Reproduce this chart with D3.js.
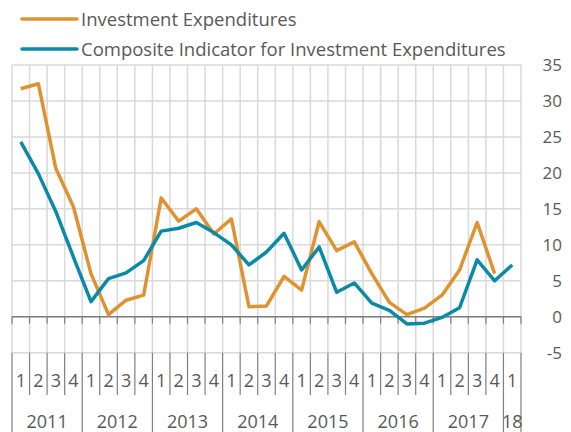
<!DOCTYPE html>
<html>
<head>
<meta charset="utf-8">
<script src="https://cdn.jsdelivr.net/npm/d3@7"></script>
<style>
  body { margin: 0; background: #fff; }
  text { font-family: "Open Sans", sans-serif; fill: #595959; }
</style>
</head>
<body>
<div class="chart"></div>
<script>
// quarters 2011 Q1 .. 2018 Q1
const years = ["2011", "2012", "2013", "2014", "2015", "2016", "2017", "18"];
const quarters = [];
years.forEach((y, i) => {
  const n = i === years.length - 1 ? 1 : 4;
  for (let q = 1; q <= n; q++) quarters.push({ year: y, q: q });
});

const investment = [31.7, 32.4, 20.6, 15.3, 6.0, 0.3, 2.3, 3.0, 16.5, 13.3, 15.0, 11.5,
  13.6, 1.4, 1.5, 5.6, 3.7, 13.2, 9.2, 10.4, 6.0, 2.0, 0.3, 1.2, 3.0, 6.5, 13.1, 6.0, null];
const composite = [24.3, 19.9, 14.6, 8.3, 2.1, 5.3, 6.1, 7.8, 11.9, 12.3, 13.1, 11.7,
  10.0, 7.2, 9.0, 11.6, 6.5, 9.7, 3.4, 4.7, 1.9, 0.9, -1.0, -0.9, -0.1, 1.25, 7.9, 5.0, 7.2];
const yTicks = [-5, 0, 5, 10, 15, 20, 25, 30, 35];

const orange = "#DE9230";
const teal = "#0B8AA8";

const width = 571, height = 432;
const svg = d3.select(".chart").append("svg").attr("width", width).attr("height", height);

const x = d3.scaleBand().domain(d3.range(quarters.length)).range([12, 521]).paddingInner(0).paddingOuter(0);
const y = d3.scaleLinear().domain([-5, 35]).range([352.7, 65]);

const bounds = d3.range(quarters.length + 1).map(i => 12 + i * x.bandwidth());

// gridlines
svg.append("g").selectAll("line").data(yTicks).join("line")
  .attr("x1", 12).attr("x2", 521)
  .attr("y1", d => y(d)).attr("y2", d => y(d))
  .attr("stroke", "#d9d9d9").attr("stroke-width", 1.5);

svg.append("g").selectAll("line").data(bounds).join("line")
  .attr("x1", d => d).attr("x2", d => d)
  .attr("y1", y(35)).attr("y2", y(-5))
  .attr("stroke", "#d9d9d9").attr("stroke-width", 1.5);

// zero axis with ticks
svg.append("line")
  .attr("x1", 12).attr("x2", 521).attr("y1", y(0)).attr("y2", y(0))
  .attr("stroke", "#7f7f7f").attr("stroke-width", 1.5);
svg.append("g").selectAll("line").data(bounds).join("line")
  .attr("x1", d => d).attr("x2", d => d)
  .attr("y1", y(0)).attr("y2", y(0) + 7)
  .attr("stroke", "#7f7f7f").attr("stroke-width", 1.2);

// right value axis
svg.append("g").selectAll("text").data(yTicks).join("text")
  .attr("x", 562).attr("y", d => y(d)).attr("dy", "0.36em")
  .attr("text-anchor", "end").style("font-size", "17px")
  .text(d => d);

// category axis (quarters + years)
const labelTop = y(-5);
svg.append("g").selectAll("line").data(bounds).join("line")
  .attr("x1", d => d).attr("x2", d => d)
  .attr("y1", labelTop)
  .attr("y2", (d, i) => (i % 4 === 0 || i === quarters.length) ? height : 395)
  .attr("stroke", "#7f7f7f").attr("stroke-width", 1.2);

svg.append("g").selectAll("text").data(quarters).join("text")
  .attr("x", (d, i) => x(i) + x.bandwidth() / 2).attr("y", 387)
  .attr("text-anchor", "middle").style("font-size", "18px")
  .text(d => d.q);

const yearSpans = years.map(yr => {
  const idx = quarters.map((d, i) => d.year === yr ? i : -1).filter(i => i >= 0);
  return { year: yr, start: idx[0], end: idx[idx.length - 1] };
});
svg.append("g").selectAll("text").data(yearSpans).join("text")
  .attr("x", d => (x(d.start) + x(d.end) + x.bandwidth()) / 2).attr("y", 428)
  .attr("text-anchor", "middle").style("font-size", "18px")
  .text(d => d.year);

// series
const line = d3.line()
  .defined(d => d != null)
  .x((d, i) => x(i) + x.bandwidth() / 2)
  .y(d => y(d));

svg.append("path").datum(investment)
  .attr("fill", "none").attr("stroke", orange).attr("stroke-width", 3.5)
  .attr("stroke-linejoin", "round").attr("d", line);

svg.append("path").datum(composite)
  .attr("fill", "none").attr("stroke", teal).attr("stroke-width", 3.5)
  .attr("stroke-linejoin", "round").attr("d", line);

// legend
const legend = [
  { name: "Investment Expenditures", color: orange, y: 19 },
  { name: "Composite Indicator for Investment Expenditures", color: teal, y: 49 }
];
const lg = svg.append("g").selectAll("g").data(legend).join("g");
lg.append("line")
  .attr("x1", 22).attr("x2", 77).attr("y1", d => d.y).attr("y2", d => d.y)
  .attr("stroke", d => d.color).attr("stroke-width", 3.5).attr("stroke-linecap", "round");
lg.append("text")
  .attr("x", 81).attr("y", d => d.y).attr("dy", "0.36em")
  .style("font-size", "18.5px")
  .text(d => d.name);
</script>
</body>
</html>
